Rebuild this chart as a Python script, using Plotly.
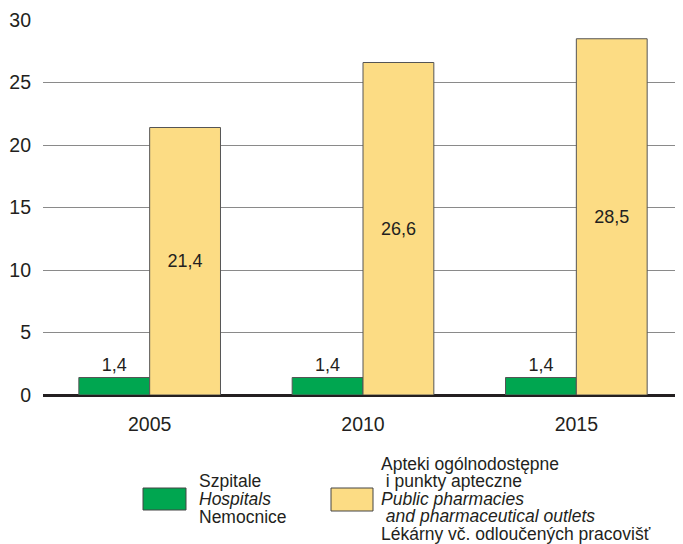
import plotly.graph_objects as go

years = ["2005", "2010", "2015"]
hospitals = [1.4, 1.4, 1.4]
pharmacies = [21.4, 26.6, 28.5]
hosp_labels = ["Szpitale", "<i>Hospitals</i>", "Nemocnice"]
pharm_labels = ["Apteki ogólnodostępne", "\u00a0i punkty apteczne", "<i>Public pharmacies</i>",
                "<i>\u00a0and pharmaceutical outlets</i>", "Lékárny vč. odloučených pracovišť"]
y_ticks = [0, 5, 10, 15, 20, 25, 30]

GREEN = "#00a650"
YELLOW = "#fcdc84"
FONT = "Liberation Sans, Arial, sans-serif"

def fmt(v):
    return f"{v:.1f}".replace(".", ",")

# page offset of 8px (body margin) is compensated below
OFF = 8
L, T, PW, PH = 43 - OFF, 20 - OFF, 640, 375

def px(x):
    return (x - OFF - L) / PW

def py(y):
    return (T + PH - (y - OFF)) / PH

fig = go.Figure()
fig.add_bar(x=years, y=hospitals, name="Szpitale", marker=dict(color=GREEN, line=dict(color="#555", width=1)),
            text=[fmt(v) for v in hospitals], textposition="outside",
            textfont=dict(size=18, color="#231f20", family=FONT), cliponaxis=False)
fig.add_bar(x=years, y=pharmacies, name="Apteki", marker=dict(color=YELLOW, line=dict(color="#555", width=1)),
            text=[fmt(v) for v in pharmacies], textposition="inside", insidetextanchor="middle",
            textfont=dict(size=18, color="#231f20", family=FONT))

fig.update_layout(
    width=683 - OFF, height=544 - OFF,
    margin=dict(l=L, r=0, t=T, b=544 - OFF - T - PH, pad=0),
    barmode="group", bargap=0.336, bargroupgap=0,
    plot_bgcolor="white", paper_bgcolor="white",
    showlegend=False,
    font=dict(family=FONT, size=19, color="#231f20"),
    xaxis=dict(showgrid=False, ticks="", tickfont=dict(size=19.5), showline=False, ticklabelstandoff=15),
    yaxis=dict(range=[0, 30], tickvals=y_ticks, showgrid=True, gridcolor="#8a8a8a", gridwidth=1,
               zeroline=True, zerolinecolor="#231f20", zerolinewidth=3, ticks="",
               tickfont=dict(size=19.5), ticklabelstandoff=11),
)

# legend boxes
fig.add_shape(type="rect", xref="paper", yref="paper", x0=px(143), x1=px(186),
              y0=py(510), y1=py(488), fillcolor=GREEN, line=dict(color="#444", width=1))
fig.add_shape(type="rect", xref="paper", yref="paper", x0=px(331), x1=px(373),
              y0=py(511), y1=py(488), fillcolor=YELLOW, line=dict(color="#444", width=1))

for i, t in enumerate(hosp_labels):
    y = 481 + i * 18
    fig.add_annotation(text=t, xref="paper", yref="paper", x=px(197), y=py(y),
                       xanchor="left", yanchor="middle", showarrow=False, font=dict(size=17.5))
for i, t in enumerate(pharm_labels):
    y = 463.5 + i * 17.5
    fig.add_annotation(text=t, xref="paper", yref="paper", x=px(379), y=py(y),
                       xanchor="left", yanchor="middle", showarrow=False, font=dict(size=17.5))

fig.write_html("out.html")
